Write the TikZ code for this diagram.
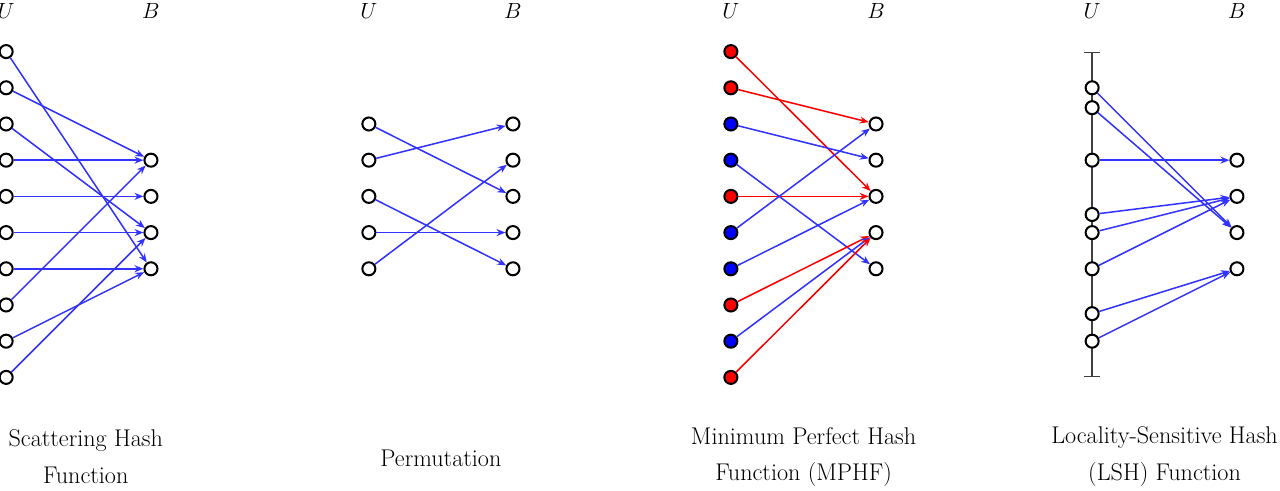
\documentclass[tikz,border=0pt]{standalone}
\usetikzlibrary{arrows.meta}
\begin{document}
\begin{tikzpicture}[
    dot/.style={circle, draw=black, line width=1.6pt, fill=white, inner sep=0pt, minimum size=0.36cm},
    maplink/.style={-{Stealth[length=7pt,width=5.5pt]}, blue!80, line width=1.2pt},
    setlabel/.style={font=\fontsize{19}{23}\selectfont},
    caption/.style={align=center, font=\fontsize{19}{29}\selectfont}
]
    \useasboundingbox (0,1.425) rectangle (35.36,-12.115);

    % Scattering Hash Function
    \node[setlabel] (s-U) at (0.17,1.13) {$U$};
    \node[setlabel] (s-B) at (4.17,1.13) {$B$};
    \foreach \k in {0,...,9} \node[dot] (s-u\k) at (0.17,-\k) {};
    \foreach \k in {3,...,6} \node[dot] (s-b\k) at (4.17,-\k) {};
    \foreach \a/\b in {0/6,1/3,2/5,3/3,4/4,5/5,6/6,7/3,8/6,9/5}
        \draw[maplink] (s-u\a) -- (s-b\b);
    \node[caption] (s-cap) at (2.37,-11.2) {Scattering Hash\\Function};

    % Permutation
    \node[setlabel] (p-U) at (10.19,1.13) {$U$};
    \node[setlabel] (p-B) at (14.17,1.13) {$B$};
    \foreach \k in {2,...,6} \node[dot] (p-u\k) at (10.19,-\k) {};
    \foreach \k in {2,...,6} \node[dot] (p-b\k) at (14.17,-\k) {};
    \foreach \a/\b in {2/4,3/2,4/6,5/5,6/3}
        \draw[maplink] (p-u\a) -- (p-b\b);
    \node[caption] (p-cap) at (12.18,-11.25) {Permutation};

    % Minimum Perfect Hash Function
    \node[setlabel] (m-U) at (20.19,1.13) {$U$};
    \node[setlabel] (m-B) at (24.2,1.13) {$B$};
    \foreach \k/\c in {0/red,1/red,2/blue,3/blue,4/red,5/blue,6/blue,7/red,8/blue,9/red}
        \node[dot, fill=\c] (m-u\k) at (20.19,-\k) {};
    \foreach \k in {2,...,6} \node[dot] (m-b\k) at (24.2,-\k) {};
    \foreach \a/\b/\c in {0/4/red,1/2/red,2/3/blue!80,3/6/blue!80,4/4/red,5/2/blue!80,6/4/blue!80,7/5/red,8/5/blue!80,9/5/red}
        \draw[maplink, \c] (m-u\a) -- (m-b\b);
    \node[caption] (m-cap) at (22.2,-11.2) {Minimum Perfect Hash\\Function (MPHF)};

    % Locality-Sensitive Hash Function
    \node[setlabel] (l-U) at (30.17,1.13) {$U$};
    \node[setlabel] (l-B) at (34.17,1.13) {$B$};
    \coordinate (l-top) at (30.17,0);
    \coordinate (l-bot) at (30.17,-9);
    \draw[black!75, line width=1.2pt, {Bar[width=0.45cm]}-{Bar[width=0.45cm]}] (l-top) -- (l-bot);
    \foreach \n/\k in {1/1,2/1.55,3/3,4/4.5,5/5,6/6,7/7.24,8/8}
        \node[dot] (l-u\n) at (30.17,-\k) {};
    \foreach \k in {3,...,6} \node[dot] (l-b\k) at (34.17,-\k) {};
    \foreach \a/\b in {1/5,2/5,3/3,4/4,5/4,6/4,7/6,8/6}
        \draw[maplink] (l-u\a) -- (l-b\b);
    \node[caption] (l-cap) at (32.17,-11.2) {Locality-Sensitive Hash\\(LSH) Function};
\end{tikzpicture}
\end{document}
